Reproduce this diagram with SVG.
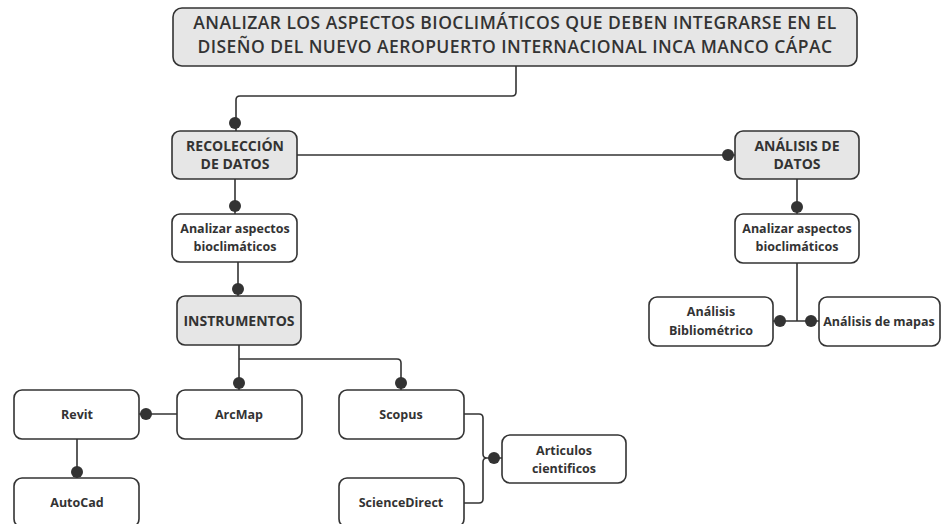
<svg xmlns="http://www.w3.org/2000/svg" width="943" height="524" viewBox="0 0 943 524">
<defs>
<style>
.n rect{stroke:#333;stroke-width:1.6;}
.g rect{fill:#e6e6e6;}
.w rect{fill:#fff;}
text{font-family:"Open Sans","Liberation Sans",sans-serif;font-weight:700;fill:#333;text-anchor:middle;}
.t{font-size:17.5px;font-weight:600;letter-spacing:0.45px;}
.s{font-size:12.5px;}
.u{font-size:14px;}
.c path{fill:none;stroke:#333;stroke-width:1.6;}
.c circle{fill:#333;}
</style>
</defs>
<rect width="943" height="524" fill="#fff"/>
<g class="c" id="connectors">
<path d="M516 66 V92 Q516 96 512 96 H240 Q236 96 236 100 V131"/>
<circle cx="235" cy="123" r="6"/>
<path d="M297 155 H735"/>
<circle cx="728" cy="155" r="6"/>
<path d="M797 179 V214"/>
<circle cx="797" cy="207" r="6"/>
<path d="M235 179 V214"/>
<circle cx="235" cy="206" r="6"/>
<path d="M238 262 V296"/>
<circle cx="238" cy="289" r="6"/>
<path d="M797 263 V321 M773 321 H819"/>
<circle cx="780" cy="321" r="6"/>
<circle cx="811" cy="321" r="6"/>
<path d="M239 345 V390 M239 359 H397 Q401 359 401 363 V390"/>
<circle cx="239" cy="383" r="6"/>
<circle cx="401" cy="383" r="6"/>
<path d="M139 414 H177"/>
<circle cx="146" cy="414" r="6"/>
<path d="M77 439 V478"/>
<circle cx="77" cy="472" r="6"/>
<path d="M464 414 H479 Q483 414 483 418 V454 Q483 458 487 458 H502 M464 503 H479 Q483 503 483 499 V462 Q483 458 487 458"/>
<circle cx="494" cy="458" r="6"/>
</g>
<g class="n g" id="title"><rect x="173" y="8" width="684" height="58" rx="9"/>
<text class="t" x="515" y="29">ANALIZAR LOS ASPECTOS BIOCLIMÁTICOS QUE DEBEN INTEGRARSE EN EL</text>
<text class="t" x="515" y="53">DISEÑO DEL NUEVO AEROPUERTO INTERNACIONAL INCA MANCO CÁPAC</text></g>
<g class="n g" id="recoleccion"><rect x="172" y="131" width="125" height="48" rx="8"/>
<text class="u" x="235" y="151">RECOLECCIÓN</text><text class="u" x="235" y="169">DE DATOS</text></g>
<g class="n g" id="analisis"><rect x="735" y="131" width="124" height="48" rx="8"/>
<text class="u" x="797" y="151">ANÁLISIS DE</text><text class="u" x="797" y="169">DATOS</text></g>
<g class="n w" id="analizar1"><rect x="172" y="214" width="125" height="48" rx="8"/>
<text class="s" x="235" y="233">Analizar aspectos</text><text class="s" x="235" y="251">bioclimáticos</text></g>
<g class="n w" id="analizar2"><rect x="735" y="214" width="124" height="49" rx="8"/>
<text class="s" x="797" y="233">Analizar aspectos</text><text class="s" x="797" y="251">bioclimáticos</text></g>
<g class="n g" id="instrumentos"><rect x="177" y="296" width="124" height="49" rx="8"/>
<text class="u" x="239" y="326">INSTRUMENTOS</text></g>
<g class="n w" id="biblio"><rect x="649" y="297" width="124" height="49" rx="8"/>
<text class="s" x="711" y="316">Análisis</text><text class="s" x="711" y="335">Bibliométrico</text></g>
<g class="n w" id="mapas"><rect x="819" y="297" width="121" height="49" rx="8"/>
<text class="s" x="879" y="326">Análisis de mapas</text></g>
<g class="n w" id="revit"><rect x="14" y="390" width="125" height="49" rx="8"/>
<text class="s" x="77" y="419">Revit</text></g>
<g class="n w" id="arcmap"><rect x="177" y="390" width="125" height="49" rx="8"/>
<text class="s" x="239" y="419">ArcMap</text></g>
<g class="n w" id="scopus"><rect x="339" y="390" width="125" height="49" rx="8"/>
<text class="s" x="401" y="419">Scopus</text></g>
<g class="n w" id="articulos"><rect x="502" y="435" width="124" height="48" rx="8"/>
<text class="s" x="564" y="455">Articulos</text><text class="s" x="564" y="473">cientificos</text></g>
<g class="n w" id="autocad"><rect x="14" y="478" width="125" height="49" rx="8"/>
<text class="s" x="77" y="507">AutoCad</text></g>
<g class="n w" id="sciencedirect"><rect x="339" y="478" width="125" height="49" rx="8"/>
<text class="s" x="401" y="507">ScienceDirect</text></g>
</svg>
